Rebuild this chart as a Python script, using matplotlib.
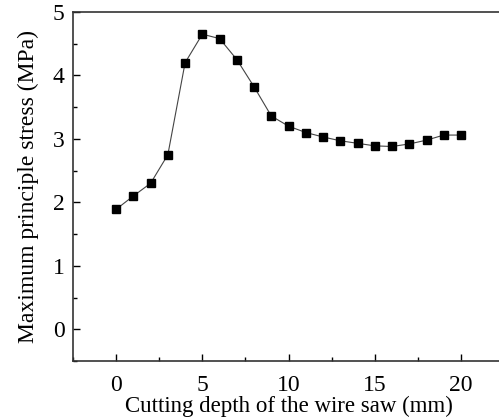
import numpy as np
import matplotlib.pyplot as plt
from matplotlib.ticker import MultipleLocator

# cutting depth (mm) and max principle stress (MPa)
depth = [0, 1, 2, 3, 4, 5, 6, 7, 8, 9, 10,
         11, 12, 13, 14, 15, 16, 17, 18, 19, 20]
stress = [1.89, 2.10, 2.30, 2.75, 4.20, 4.65, 4.58, 4.25, 3.82, 3.36, 3.20,
          3.10, 3.03, 2.97, 2.93, 2.89, 2.88, 2.92, 2.98, 3.06, 3.06]

plt.rcParams['font.family'] = 'Liberation Serif'

fig = plt.figure(figsize=(4.99, 4.18), dpi=100)
ax = fig.add_axes([0.1463, 0.1364, 0.864, 0.835])

ax.plot(depth, stress, color='#444444', lw=0.8, marker='s', ms=6,
        mfc='black', mec='black')

ax.set_xlim(-2.5, 22.5)
ax.set_ylim(-0.5, 5)
ax.xaxis.set_major_locator(MultipleLocator(5))
ax.xaxis.set_minor_locator(MultipleLocator(2.5))
ax.yaxis.set_major_locator(MultipleLocator(1))
ax.yaxis.set_minor_locator(MultipleLocator(0.5))
ax.tick_params(which='both', direction='in', top=False, right=False,
               labelsize=17, width=1)
ax.tick_params(which='major', length=5)
ax.tick_params(which='minor', length=3)
ax.tick_params(axis='x', pad=10)
ax.tick_params(axis='y', pad=6)

for s in ax.spines.values():
    s.set_linewidth(1.2)
    s.set_color('#333333')

ax.set_xlabel('Cutting depth of the wire saw (mm)', fontsize=16.5, labelpad=0)
ax.set_ylabel('Maximum principle stress (MPa)', fontsize=17, labelpad=10)

fig.savefig('out.png', dpi=100)
